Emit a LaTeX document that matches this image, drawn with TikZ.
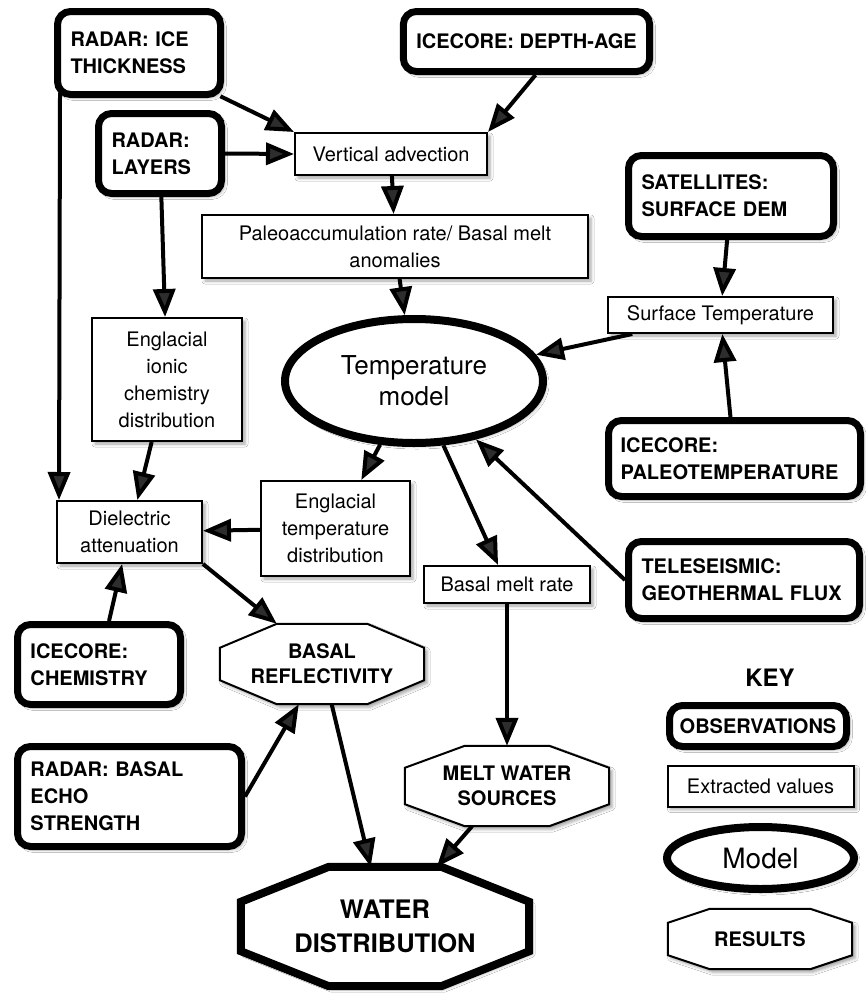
\documentclass[tikz,border=0pt]{standalone}
\usepackage{fontspec}
\setmainfont{TeX Gyre Heros}
\usetikzlibrary{arrows.meta,shapes.geometric,shadows.blur}
\pgfdeclarelayer{background}
\pgfsetlayers{background,main}

\tikzset{
  shd/.style={blur shadow={shadow xshift=3pt,shadow yshift=-3pt,shadow blur radius=3pt,shadow opacity=35}},
  obs/.style={draw,fill=white,line width=7pt,rounded corners=13pt,inner xsep=13pt,inner ysep=0pt,
    align=left,font=\bfseries\fontsize{20}{27}\selectfont,shd},
  val/.style={draw,fill=white,line width=2pt,inner sep=0pt,align=center,font=\fontsize{20}{27}\selectfont,shd},
  model/.style={draw,fill=white,ellipse,line width=8pt,inner sep=0pt,align=center,shd},
  res/.style={inner sep=0pt,align=center,font=\bfseries\fontsize{20}{25}\selectfont},
  arr/.style={line width=4pt,-{Triangle[length=28pt,width=22pt]}},
}

% octagon drawn round a result node: node, xsep, ysep, line width
\newcommand\octagon[4]{%
  \draw[line width=#4,fill=white,line join=miter,shd]
    ([xshift=#2]#1.north west) -- ([xshift=-#2]#1.north east) -- ([yshift=-#3]#1.north east)
    -- ([yshift=#3]#1.south east) -- ([xshift=-#2]#1.south east) -- ([xshift=#2]#1.south west)
    -- ([yshift=#3]#1.south west) -- ([yshift=-#3]#1.north west) -- cycle;}

\begin{document}
\begin{tikzpicture}[x=1pt,y=-1pt]
\useasboundingbox (0,0) rectangle (866,993);

% observations
\node[obs,text width=137pt,minimum height=83pt] (thick) at (139,53) {RADAR: ICE\\THICKNESS};
\node[obs,text width=97pt,minimum height=80pt] (layers) at (160,153.5) {RADAR:\\LAYERS};
\node[obs,minimum width=244pt,minimum height=60pt] (depthage) at (526.5,41.5) {ICECORE: DEPTH-AGE};
\node[obs,text width=179pt,minimum height=81pt] (sat) at (731,196) {SATELLITES:\\SURFACE DEM};
\node[obs,inner xsep=12pt,text width=228pt,minimum height=76pt] (paleotemp) at (734.5,458.5) {ICECORE:\\PALEOTEMPERATURE};
\node[obs,text width=205pt,minimum height=77pt] (tele) at (744,580) {TELESEISMIC:\\GEOTHERMAL FLUX};
\node[obs,text width=137pt,minimum height=80pt] (chem) at (99,664.5) {ICECORE:\\CHEMISTRY};
\node[obs,text width=198pt,minimum height=100pt] (echo) at (129.5,796.5) {RADAR: BASAL\\ECHO\\STRENGTH};

% extracted values
\node[val,minimum width=192pt,minimum height=42pt] (vadv) at (391,154) {Vertical advection};
\node[val,minimum width=386pt,minimum height=63pt] (paleo) at (395,246.5) {Paleoaccumulation rate/ Basal melt\\anomalies};
\node[val,minimum width=225pt,minimum height=36pt] (surft) at (720.5,315) {Surface Temperature};
\node[val,minimum width=150pt,minimum height=123pt] (ionic) at (167,379.5) {Englacial\\ionic\\chemistry\\distribution};
\node[val,minimum width=145pt,minimum height=62pt] (diel) at (129.5,532) {Dielectric\\attenuation};
\node[val,minimum width=149pt,minimum height=95pt] (engtemp) at (335.5,528.5) {Englacial\\temperature\\distribution};
\node[val,minimum width=166pt,minimum height=37pt] (bmr) at (507,584.5) {Basal melt rate};

% model
\node[model,minimum width=258pt,minimum height=124pt,font=\fontsize{26}{31}\selectfont] (temp) at (414,381) {Temperature\\model};

% results
\node[res,minimum width=204pt,minimum height=80pt] (basalref) at (322,664) {BASAL\\REFLECTIVITY};
\node[res,minimum width=204pt,minimum height=80pt] (melt) at (507,786) {MELT WATER\\SOURCES};
\node[res,minimum width=288pt,minimum height=119pt,font=\bfseries\fontsize{25.5}{34}\selectfont] (water) at (385,926.5) {WATER\\DISTRIBUTION};

% key
\node[font=\bfseries\fontsize{24}{28}\selectfont] (key) at (770,678) {KEY};
\node[obs,align=center,inner xsep=0pt,minimum width=177pt,minimum height=41pt] (kobs) at (758,726) {OBSERVATIONS};
\node[val,minimum width=186pt,minimum height=41pt] (kval) at (760.5,786) {Extracted values};
\node[model,minimum width=187pt,minimum height=62pt,font=\fontsize{28}{32}\selectfont] (kmodel) at (760.5,858) {Model};
\node[res,minimum width=184pt,minimum height=60pt] (kres) at (760,939) {RESULTS};

\begin{pgfonlayer}{background}
\fill[white] (0,0) rectangle (866,993);
\octagon{basalref}{57pt}{24pt}{2pt}
\octagon{melt}{60pt}{22pt}{2pt}
\octagon{water}{88pt}{35pt}{8pt}
\octagon{kres}{42pt}{14pt}{2pt}
\end{pgfonlayer}

% connectors
\draw[arr,shorten <=-4pt] (thick.south east) -- (vadv.north west);
\draw[arr] (layers.east) -- (vadv.west);
\draw[arr] ([xshift=9pt]depthage.south) -- (vadv.north east);
\draw[arr] (vadv) -- (paleo);
\draw[arr] (paleo) -- (temp);
\draw[arr] (sat) -- (surft);
\draw[arr] (surft) -- (temp);
\draw[arr] (paleotemp) -- (surft);
\draw[arr] (tele.west) -- (temp);
\draw[arr] (layers) -- (ionic);
\draw[arr,shorten <=-5pt] ([xshift=6pt]thick.south west) -- ([xshift=3pt]diel.north west);
\draw[arr] (ionic) -- (diel);
\draw[arr] (temp) -- (engtemp);
\draw[arr] (engtemp) -- (diel);
\draw[arr] (temp) -- (bmr);
\draw[arr] (diel.south east) -- ([xshift=57pt]basalref.north west);
\draw[arr] (chem) -- (diel);
\draw[arr] (echo.east) -- (basalref.240);
\draw[arr] (basalref) -- (water);
\draw[arr] (bmr) -- (melt);
\draw[arr] (melt) -- (water);
\end{tikzpicture}
\end{document}
